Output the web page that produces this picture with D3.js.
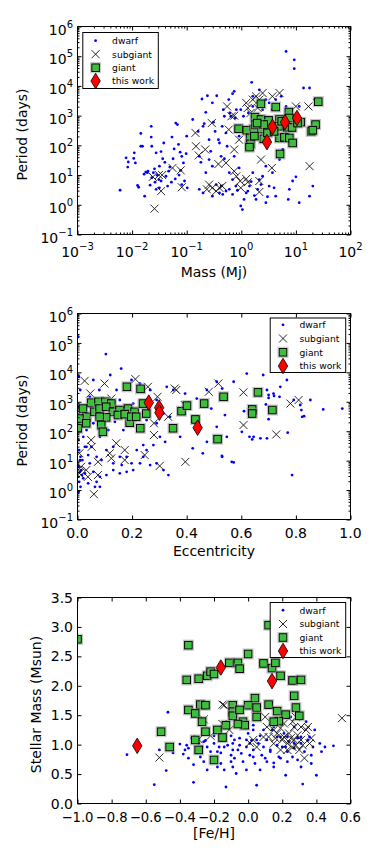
<!DOCTYPE html>
<meta charset="utf-8">
<script src="https://d3js.org/d3.v7.min.js"></script>
<style>
  body { margin: 0; background: #fff; }
  text { font-family: "DejaVu Sans", sans-serif; fill: #000; }
</style>
<body>
<script>

// ---------- data ----------
// panels 1 & 2: mass and period were read off log axes, so they are kept as log10 values
// panel 1: [log10 mass (Mj), log10 period (days)]
var p1Dwarf = [[-2.22,0.49],[-2.11,1.58],[-2.07,1.44],[-2.08,1.27],[-1.96,1.75],[-1.97,1.56],[-1.94,1.41],[-1.90,0.65],[-1.88,0.59],[-1.84,1.97],[-1.81,1.97],[-1.84,2.40],[-1.77,0.29],[-1.72,1.08],[-1.71,1.13],[-1.67,0.66],[-1.65,2.64],[-1.65,2.28],[-1.64,0.91],[-1.61,1.08],[-1.58,0.76],[-1.56,0.52],[-1.54,0.99],[-1.51,0.85],[-1.50,0.57],[-1.47,0.80],[-1.44,1.55],[-1.42,2.08],[-1.40,1.43],[-1.38,0.96],[-1.35,0.63],[-1.33,1.13],[-1.31,1.27],[-1.28,0.76],[-1.27,2.28],[-1.25,1.55],[-1.21,0.87],[-1.20,2.75],[-1.17,2.70],[-1.15,2.03],[-1.12,1.77],[-1.09,1.63],[-1.06,1.41],[-1.04,0.80],[-1.01,1.72],[-1.00,2.31],[-0.99,0.57],[-1.50,1.30],[-1.59,1.21],[-1.75,1.10],[-1.78,1.03],[-1.64,1.97],[-1.56,1.75],[-1.47,1.79],[-1.23,1.88],[-1.11,1.16],[-1.14,1.00],[-1.09,0.68],
  [-0.89,2.87],[-0.79,2.47],[-0.77,1.63],[-0.74,1.43],[-0.72,3.56],[-0.70,2.64],[-0.68,2.73],[-0.65,3.11],[-0.62,3.67],[-0.59,2.19],[-0.56,1.80],[-0.53,3.43],[-0.51,2.78],[-0.48,2.47],[-0.45,3.67],[-0.42,2.19],[-0.40,2.08],[-0.37,1.63],[-0.35,2.64],[-0.33,3.20],[-0.31,2.98],[-0.28,2.42],[-0.26,1.97],[-0.23,3.54],[-0.21,3.09],[-0.19,2.98],[-0.16,3.74],[-0.13,3.82],[-0.11,2.92],[-0.09,3.20],[-0.06,2.53],[-0.04,2.31],[-0.22,1.08],[-0.16,0.85],[-0.10,0.63],[-0.46,0.68],[-0.37,0.63],[-0.28,0.46],[-0.77,0.52],[-0.70,0.40],[-0.53,0.29],[-0.40,0.40],[-0.34,0.35],[-0.22,0.52],[-0.16,0.35],[-0.07,0.49],[-0.04,1.24],[-0.13,1.63],[-0.31,1.55],[-0.53,1.30],[-0.65,1.08],[-0.59,1.52],
  [-0.01,-0.04],[0.02,-0.16],[0.05,0.18],[0.09,0.40],[0.12,0.46],[0.15,0.63],[0.18,0.78],[0.21,1.08],[0.24,0.31],[0.27,0.18],[0.30,0.52],[0.33,0.85],[0.36,0.68],[0.39,0.96],[0.45,1.30],[0.48,0.27],[0.51,0.63],[0.57,1.08],[0.60,0.57],[0.63,0.29],[0.70,1.52],[0.76,1.86],[0.82,2.42],[0.88,2.64],[0.94,0.80],[1.00,0.94],[1.03,2.87],[1.06,3.31],[1.09,2.75],[1.14,3.93],[1.25,3.93],[1.34,3.54],[1.31,0.63],[0.88,0.52],[0.86,0.18],[0.97,4.88],[0.97,4.58],[0.82,5.16],[0.19,4.12],[0.21,3.31],[0.13,3.09],[0.04,2.98],[-0.01,3.20],[0.39,3.20],[0.45,3.54],[0.51,3.43],[0.57,3.20],[0.21,3.65],[0.33,3.87],[0.27,2.98],[0.45,2.64],[0.51,2.19],[0.39,2.42],[0.15,1.97],[0.63,3.54],[0.73,3.65],[0.82,3.31],[1.06,0.07],[1.25,0.29],[0.45,0.07]];
var p1Sub = [[-1.59,-0.13],[-1.47,0.46],[-1.62,0.94],[-1.51,1.00],[-1.45,1.00],[-1.26,1.24],[-1.09,0.59],[-1.11,1.16],[-0.84,2.42],[-0.83,1.97],[-0.78,1.66],[-0.66,1.86],[-0.54,2.75],[-0.63,0.52],[-0.59,0.68],[-0.53,0.57],[-0.46,0.46],[-0.40,0.57],[-0.35,0.63],[-0.42,1.37],[-0.26,3.31],[-0.23,2.53],[-0.18,2.98],[-0.13,1.86],[-0.13,1.13],[-0.09,0.96],[-0.02,0.80],[-0.01,0.57],[0.09,0.87],[0.12,0.76],[0.09,3.43],[0.21,3.54],[0.27,3.65],[0.33,3.54],[0.39,3.76],[0.12,3.26],[0.17,3.09],[0.30,3.26],[0.36,1.52],[0.33,0.80],[0.33,0.43],[0.56,1.24],[0.57,3.65],[0.70,3.76],[1.00,3.31],[1.23,3.31],[1.25,1.30],[-0.28,1.41],[-0.13,3.00],[-0.04,2.19]];
var p1Giant = [[0.36,3.40],[0.63,3.29],[0.87,3.12],[1.41,3.47],[0.25,2.95],[0.36,2.87],[0.50,2.84],[0.70,2.87],[0.88,2.92],[1.09,2.78],[1.36,2.70],[1.28,2.47],[1.31,2.51],[-0.05,2.56],[0.10,2.51],[0.23,2.55],[0.37,2.55],[0.26,2.69],[0.41,2.70],[0.68,2.64],[0.74,2.81],[0.84,2.61],[0.93,2.60],[0.16,2.25],[0.17,2.05],[0.15,1.94],[0.41,2.22],[0.70,2.25],[0.79,2.27],[0.88,2.25],[0.94,2.08],[0.71,1.71],[0.24,2.31],[0.48,2.42],[0.60,2.47],[0.29,2.75],[1.03,2.75]];
var p1This = [[0.47,2.11],[0.57,2.62],[0.80,2.78],[1.02,2.92]];

// panel 2: [eccentricity, log10 period (days)]
var p2Dwarf = [[0.003,5.21],[0.005,3.85],[0.01,3.40],[0.006,2.83],[0.004,2.49],[0.01,2.04],[0.004,1.70],[0.006,1.36],[0.011,1.13],[0.004,0.79],[0.009,0.62],[0.004,0.45],[0.006,0.28],[0.011,0.11],[0.004,-0.06],[0.009,1.02],[0.013,0.68],[0.016,0.51],[0.021,0.40],[0.027,0.57],
  [0.104,4.62],[0.16,4.13],[0.12,3.91],[0.08,3.40],[0.045,3.17],[0.058,3.74],[0.143,3.40],[0.198,3.74],[0.229,3.62],[0.266,3.40],[0.29,3.06],[0.327,3.51],[0.351,3.40],[0.394,3.28],[0.437,3.11],[0.474,3.40],[0.51,3.68],[0.572,3.68],[0.62,3.96],[0.68,3.91],[0.694,3.40],[0.718,3.28],[0.743,3.51],[0.767,3.74],[0.792,3.06],[0.816,2.89],[0.853,3.06],[0.90,2.74],[0.97,2.77],[0.823,2.49],[0.694,1.76],[0.645,1.81],[0.602,1.98],[0.51,2.15],[0.547,1.81],[0.474,1.64],[0.459,1.25],[0.422,1.42],[0.529,1.16],[0.565,0.96],[0.572,0.94],[0.67,1.76],[0.786,0.51],
  [0.376,1.81],[0.351,2.04],[0.321,1.64],[0.302,1.81],[0.278,1.53],[0.253,1.36],[0.241,1.13],[0.229,0.91],[0.204,0.68],[0.18,0.62],[0.155,0.57],[0.131,0.68],[0.106,0.51],[0.082,0.45],[0.07,0.28],[0.058,0.62],[0.045,0.91],[0.039,1.19],[0.033,1.47],[0.051,1.47],[0.07,1.13],[0.088,1.02],[0.106,1.36],[0.131,1.47],[0.155,1.13],[0.18,1.13],[0.198,0.91],[0.315,0.68],[0.333,0.51],[0.29,0.91],[0.266,0.85],[0.033,2.04],[0.058,2.27],[0.082,1.81],[0.113,2.04],[0.137,2.32],[0.168,2.04],[0.198,2.38],[0.229,2.15],[0.253,2.38],[0.29,2.27],[0.315,2.60],[0.339,2.49],[0.045,2.83],[0.07,2.72],[0.094,3.06],[0.119,2.83],[0.155,3.06],[0.18,2.72],[0.204,2.94],[0.241,2.89],[0.027,2.49],[0.021,1.81],[0.027,1.47],[0.018,1.02],[0.082,0.11],[0.039,0.23],[0.064,0.11],[0.131,0.91],[0.162,0.85],[0.217,1.36],[0.241,1.53],
  [0.70,3.23],[0.70,3.13],[0.72,3.20],[0.74,3.17],[0.82,2.72],[0.83,2.51],[0.70,2.41],[0.69,2.91],[0.63,1.81],[0.64,1.72],[0.77,1.95],[0.53,1.13],[0.49,2.77],[0.54,2.55],[0.61,2.68],[0.53,3.45]];
var p2Sub = [[0.026,3.71],[0.099,3.62],[0.047,3.28],[0.124,3.11],[0.212,3.77],[0.258,3.51],[0.293,3.17],[0.356,3.45],[0.362,3.40],[0.481,3.34],[0.332,2.49],[0.28,2.27],[0.28,1.87],[0.393,2.89],[0.05,1.70],[0.052,1.47],[0.007,1.25],[0.013,0.79],[0.032,0.68],[0.075,0.96],[0.118,1.25],[0.142,1.59],[0.173,1.36],[0.124,1.08],[0.173,1.02],[0.246,1.19],[0.301,0.82],[0.395,0.96],[0.06,-0.14],[0.075,0.51],[0.007,0.57],[0.038,0.45],[0.516,3.62],[0.608,3.32],[0.608,2.21],[0.728,1.89],[0.78,2.94],[0.81,3.06]];
var p2Giant = [[0.181,3.51],[0.231,3.44],[0.05,2.97],[0.077,3.00],[0.102,3.00],[0.124,2.94],[0.02,2.77],[0.032,2.49],[0.062,2.66],[0.081,2.77],[0.105,2.83],[0.13,2.66],[0.154,2.72],[0.185,2.77],[0.209,2.66],[0.24,2.94],[0.252,2.60],[0.105,2.47],[0.081,2.49],[0.087,2.21],[0.093,1.98],[0.191,2.29],[0.23,2.10],[0.001,2.10],[0.007,2.43],[0.032,2.27],[0.148,2.55],[0.173,2.58],[0.197,2.49],[0.215,2.49],[0.35,2.10],[0.381,2.68],[0.401,2.87],[0.432,2.40],[0.464,2.94],[0.535,3.17],[0.661,3.32],[0.64,2.74],[0.64,2.60],[0.714,2.72],[0.513,1.73]];
var p2This = [[0.261,2.97],[0.299,2.80],[0.30,2.63],[0.44,2.12]];

// panel 3: [[Fe/H], stellar mass (Msun)]
var p3Dwarf = [[-0.71,0.83],[-0.55,0.32],[-0.48,0.56],[-0.47,1.55],[-0.52,0.91],[-0.44,0.86],[-0.40,1.01],[-0.38,0.84],[-0.37,0.91],[-0.35,0.77],[-0.32,0.66],[-0.32,0.36],[-0.30,0.86],[-0.28,0.79],[-0.27,0.96],[-0.25,1.07],[-0.24,0.57],[-0.22,0.88],[-0.20,1.02],[-0.19,0.73],[-0.17,0.96],[-0.16,0.86],[-0.14,0.57],[-0.13,0.28],[-0.12,0.99],[-0.10,0.82],[-0.09,0.91],[-0.09,1.02],[-0.08,0.77],[-0.07,0.51],[-0.06,0.91],[-0.05,1.11],[-0.04,0.85],[-0.03,0.71],[-0.01,0.96],[0.00,1.19],[0.01,0.82],[0.02,1.07],[0.03,0.91],[0.04,0.68],[0.05,0.31],[0.06,1.02],[0.07,1.15],[0.08,0.82],[0.09,0.96],[0.10,0.77],[0.11,1.08],[0.13,0.88],[0.14,1.25],[0.15,0.69],[0.17,0.99],[0.18,0.79],[0.19,1.13],[0.20,0.96],[0.22,0.48],[0.23,0.88],[0.24,1.05],[0.26,0.79],[0.27,0.94],[0.29,0.74],[0.31,1.02],[0.32,0.33],[0.33,0.88],[0.35,1.08],[0.37,0.82],[0.38,0.96],[0.40,0.48],[0.43,0.88],[0.45,0.96],[0.50,0.98],[0.39,1.25],[0.34,1.39],[0.27,1.30],[0.21,1.19],[0.15,1.30],[0.03,1.25],[-0.08,1.08],[-0.10,1.15],[-0.16,1.11],[-0.20,1.15],[-0.26,1.05],[-0.33,1.11],[-0.35,0.94],[-0.26,0.71],[-0.18,0.62],[-0.09,0.62],[-0.01,0.57],[0.07,0.57],[0.15,0.62],[0.23,0.71],[0.31,0.62],[0.37,0.68],[-0.05,1.39],[0.03,1.33],[0.17,1.42],[0.25,1.47],[0.01,1.02],[0.09,1.25],[0.13,0.91],[0.22,0.96],[0.27,1.02],[0.31,1.13],[0.17,1.13],[0.05,1.08],[-0.01,1.08],[-0.05,0.99],[-0.14,0.96],[-0.18,0.88],[-0.24,0.96],[-0.29,1.02],[-0.36,0.99],[0.23,1.13],[0.29,1.11],[0.36,1.13],[0.42,1.02],[-0.10,0.71],[0.03,0.79],[0.11,0.71],[0.19,0.77],[-0.16,0.68]];
var p3Sub = [[-0.52,0.78],[-0.26,1.43],[-0.29,1.09],[-0.22,1.15],[-0.15,1.68],[-0.14,1.67],[-0.11,1.25],[-0.15,1.35],[-0.05,1.60],[0.03,1.08],[0.01,1.03],[0.09,1.13],[0.10,1.47],[0.11,1.30],[0.12,1.13],[0.15,1.02],[0.16,1.11],[0.17,1.19],[0.19,1.28],[0.20,1.08],[0.21,1.13],[0.23,1.02],[0.24,1.19],[0.25,1.11],[0.26,0.96],[0.27,1.30],[0.27,1.08],[0.28,1.47],[0.29,1.16],[0.30,0.91],[0.31,1.08],[0.32,0.99],[0.33,0.77],[0.34,1.25],[0.35,1.30],[0.36,1.02],[0.37,1.11],[0.28,0.99],[0.23,0.91],[0.19,0.91],[0.15,1.25],[0.21,1.36],[0.26,1.39],[0.17,1.39],[0.55,1.45],[0.05,0.96],[0.31,1.30]];
var p3Giant = [[-1.00,2.79],[-0.35,2.69],[-0.36,2.10],[-0.29,2.12],[-0.24,2.17],[-0.22,2.24],[-0.20,2.20],[-0.11,2.39],[-0.06,2.39],[-0.05,2.29],[0.00,2.54],[0.09,2.38],[0.12,3.03],[0.14,2.30],[0.16,2.39],[0.19,2.17],[0.26,2.09],[0.31,2.10],[0.27,1.83],[0.28,1.63],[0.30,1.49],[0.12,1.68],[0.17,1.57],[0.22,1.51],[0.18,1.40],[0.15,1.39],[0.04,1.79],[0.00,1.67],[0.05,1.63],[0.05,1.47],[-0.09,1.67],[-0.09,1.56],[-0.09,1.49],[-0.05,1.59],[-0.03,1.39],[-0.02,1.33],[-0.06,1.35],[-0.13,1.33],[-0.18,1.25],[-0.15,1.12],[-0.28,1.68],[-0.25,1.67],[-0.35,1.59],[-0.31,1.53],[-0.27,1.39],[-0.25,1.22],[-0.31,1.08],[-0.51,1.22],[-0.46,0.96],[-0.29,0.91],[-0.20,0.74]];
var p3This = [[-0.65,0.98],[-0.16,2.31],[0.14,2.08]];

var legendNames = ["dwarf", "subgiant", "giant", "this work"];
var logTicksP = [-1, 0, 1, 2, 3, 4, 5, 6];      // period exponents
var logTicksM = [-3, -2, -1, 0, 1, 2];          // mass exponents
var eccTicks = [0, 0.2, 0.4, 0.6, 0.8, 1.0];
var fehTicks = [-1.0, -0.8, -0.6, -0.4, -0.2, 0.0, 0.2, 0.4, 0.6];
var smassTicks = [0, 0.5, 1.0, 1.5, 2.0, 2.5, 3.0, 3.5];

// ---------- helpers ----------
var BLUE = "#0000ff", GREEN = "#3cc03c", RED = "#ff0000";
var L = 77.5, R = 350.5;

var svg = d3.select("body").append("svg")
    .attr("width", 382)
    .attr("height", 858);

function unlog(a, both) {
  return a.map(function(d) { return [both ? Math.pow(10, d[0]) : d[0], Math.pow(10, d[1])]; });
}

function minors(exps) {
  var out = [];
  for (var i = 0; i < exps.length - 1; i++)
    for (var k = 2; k < 10; k++) out.push(k * Math.pow(10, exps[i]));
  return out;
}

function minus(s) { return String(s).replace("-", "\u2212"); }

function dots(g, data, fx, fy) {
  g.selectAll(null).data(data).join("circle")
    .attr("cx", fx).attr("cy", fy).attr("r", 1.4).attr("fill", BLUE);
}
function crosses(g, data, fx, fy) {
  g.selectAll(null).data(data).join("path")
    .attr("transform", function(d) { return "translate(" + fx(d) + "," + fy(d) + ")"; })
    .attr("d", "M-4,-4L4,4M-4,4L4,-4")
    .attr("fill", "none").attr("stroke", "#111").attr("stroke-width", 0.9);
}
function squares(g, data, fx, fy) {
  var s = g.selectAll(null).data(data).join("g")
    .attr("transform", function(d) { return "translate(" + fx(d) + "," + fy(d) + ")"; });
  s.append("rect").attr("x", -5).attr("y", -5).attr("width", 10).attr("height", 10)
    .attr("fill", "none").attr("stroke", "#999").attr("stroke-opacity", 0.6).attr("stroke-width", 1);
  s.append("rect").attr("x", -3.8).attr("y", -3.8).attr("width", 7.6).attr("height", 7.6)
    .attr("fill", GREEN).attr("stroke", "#000").attr("stroke-width", 1);
}
function diamonds(g, data, fx, fy) {
  g.selectAll(null).data(data).join("path")
    .attr("transform", function(d) { return "translate(" + fx(d) + "," + fy(d) + ")"; })
    .attr("d", "M0,-7.8L4.7,0L0,7.8L-4.7,0Z")
    .attr("fill", RED).attr("stroke", "#000").attr("stroke-width", 0.8);
}
var markers = [dots, crosses, squares, diamonds];

function tickLines(g, axisFn, scale, vals, size, transform) {
  g.append("g").attr("transform", transform)
    .call(axisFn(scale).tickValues(vals).tickSizeInner(-size).tickSizeOuter(0).tickFormat(""))
    .call(function(s) { s.select(".domain").remove(); s.selectAll("line").attr("stroke", "#000"); });
}

function pow10Label(t, e) {
  t.append("tspan").text("10");
  t.append("tspan").attr("font-size", "10px").attr("dy", -7).text(minus(e));
}

function drawPanel(o) {
  var x = o.x.range([L, R]), y = o.y.range([o.bottom, o.top]);
  var g = svg.append("g");

  g.append("clipPath").attr("id", "clip" + o.id)
    .append("rect").attr("x", L).attr("y", o.top).attr("width", R - L).attr("height", o.bottom - o.top);

  var pts = g.append("g").attr("clip-path", "url(#clip" + o.id + ")");
  var fx = function(d) { return x(d[0]); }, fy = function(d) { return y(d[1]); };
  o.series.forEach(function(s, i) { markers[i](pts, s, fx, fy); });

  // ticks on all four sides, pointing inward
  var xv = o.xTicks, yv = o.yTicks;
  tickLines(g, d3.axisBottom, x, xv, 4, "translate(0," + o.bottom + ")");
  tickLines(g, d3.axisTop, x, xv, 4, "translate(0," + o.top + ")");
  tickLines(g, d3.axisLeft, y, yv, 4, "translate(" + L + ",0)");
  tickLines(g, d3.axisRight, y, yv, 4, "translate(" + R + ",0)");
  if (o.xMinor) {
    tickLines(g, d3.axisBottom, x, o.xMinor, 2, "translate(0," + o.bottom + ")");
    tickLines(g, d3.axisTop, x, o.xMinor, 2, "translate(0," + o.top + ")");
  }
  if (o.yMinor) {
    tickLines(g, d3.axisLeft, y, o.yMinor, 2, "translate(" + L + ",0)");
    tickLines(g, d3.axisRight, y, o.yMinor, 2, "translate(" + R + ",0)");
  }

  g.append("rect").attr("x", L).attr("y", o.top).attr("width", R - L).attr("height", o.bottom - o.top)
    .attr("fill", "none").attr("stroke", "#000").attr("stroke-width", 1);

  // tick labels
  g.selectAll(null).data(xv).join("text")
    .attr("x", function(d) { return x(d); })
    .attr("y", o.bottom + (o.xLog ? 22 : 18))
    .attr("text-anchor", "middle").attr("font-size", o.xFont || "14px")
    .each(function(d) {
      if (o.xLog) pow10Label(d3.select(this), Math.round(Math.log10(d)));
      else d3.select(this).text(minus(d.toFixed(1)));
    });
  g.selectAll(null).data(yv).join("text")
    .attr("x", L - 4.5)
    .attr("y", function(d) { return y(d) + (o.yLog ? 8 : 5); })
    .attr("text-anchor", "end").attr("font-size", "14px")
    .each(function(d) {
      if (o.yLog) pow10Label(d3.select(this), Math.round(Math.log10(d)));
      else d3.select(this).text(d.toFixed(1));
    });

  // axis titles
  g.append("text").attr("x", (L + R) / 2).attr("y", o.xTitleY)
    .attr("text-anchor", "middle").attr("font-size", "14px").text(o.xTitle);
  g.append("text")
    .attr("transform", "translate(" + o.yTitleX + "," + ((o.top + o.bottom) / 2 + 4) + ") rotate(-90)")
    .attr("text-anchor", "middle").attr("font-size", "14px").text(o.yTitle);

  // legend
  var lg = o.legend;
  g.append("rect").attr("x", lg.x).attr("y", lg.y).attr("width", 75.5).attr("height", lg.h)
    .attr("fill", "#fff").attr("stroke", "#000").attr("stroke-width", 1);
  legendNames.forEach(function(name, i) {
    var cy = lg.rows[i];
    markers[i](g, [[lg.x + 12.8, cy]], function(d) { return d[0]; }, function(d) { return d[1]; });
    g.append("text").attr("x", lg.x + 29.3).attr("y", cy + 3.4)
      .attr("font-size", "9.2px").text(name);
  });
}

var periodTicks = logTicksP.map(function(e) { return Math.pow(10, e); });

drawPanel({
  id: 1, top: 26.5, bottom: 234.5,
  x: d3.scaleLog().domain([1e-3, 1e2]), y: d3.scaleLog().domain([1e-1, 1e6]),
  xLog: true, yLog: true,
  xTicks: logTicksM.map(function(e) { return Math.pow(10, e); }), xMinor: minors(logTicksM),
  yTicks: periodTicks, yMinor: minors(logTicksP),
  series: [unlog(p1Dwarf, true), unlog(p1Sub, true), unlog(p1Giant, true), unlog(p1This, true)],
  xTitle: "Mass (Mj)", xTitleY: 277, yTitle: "Period (days)", yTitleX: 27,
  legend: { x: 82.8, y: 32.5, h: 56, rows: [40.7, 54.2, 67.7, 81] }
});

drawPanel({
  id: 2, top: 313.5, bottom: 519.5,
  x: d3.scaleLinear().domain([0, 1]), y: d3.scaleLog().domain([1e-1, 1e6]),
  xLog: false, yLog: true,
  xTicks: eccTicks, yTicks: periodTicks, yMinor: minors(logTicksP),
  series: [unlog(p2Dwarf, false), unlog(p2Sub, false), unlog(p2Giant, false), unlog(p2This, false)],
  xTitle: "Eccentricity", xTitleY: 556, yTitle: "Period (days)", yTitleX: 27,
  legend: { x: 270.2, y: 318, h: 54.5, rows: [324.8, 338.5, 352.3, 366] }
});

drawPanel({
  id: 3, top: 597.5, bottom: 803.5,
  x: d3.scaleLinear().domain([-1.0, 0.6]), y: d3.scaleLinear().domain([0, 3.5]),
  xLog: false, yLog: false, xFont: "13.2px",
  xTicks: fehTicks, yTicks: smassTicks,
  series: [p3Dwarf, p3Sub, p3Giant, p3This],
  xTitle: "[Fe/H]", xTitleY: 838, yTitle: "Stellar Mass (Msun)", yTitleX: 41,
  legend: { x: 270.2, y: 602.5, h: 55, rows: [610.2, 624, 637.5, 651] }
});

</script>
</body>
